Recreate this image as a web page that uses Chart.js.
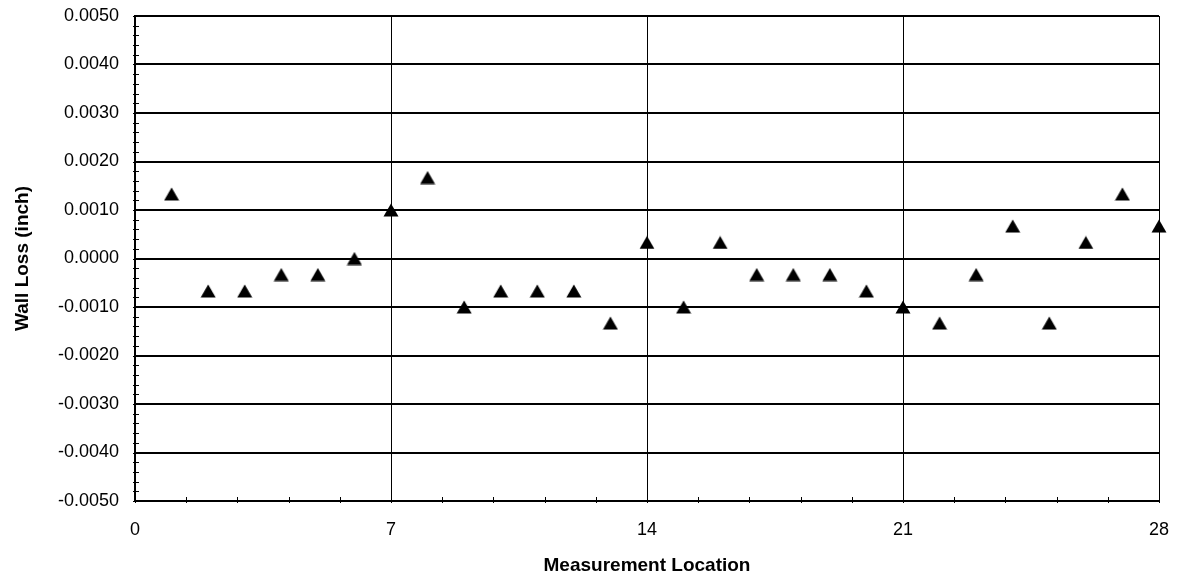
<!DOCTYPE html>
<html>
<head>
<meta charset="utf-8">
<script src="https://cdn.jsdelivr.net/npm/chart.js@4.4.1/dist/chart.umd.min.js"></script>
<style>
  html, body { margin: 0; padding: 0; background: #fff; }
  #wrap { width: 1177px; height: 577px; }
</style>
</head>
<body>
<div id="wrap"><canvas id="c" width="1177" height="577"></canvas></div>
<script>
const locations = [1,2,3,4,5,6,7,8,9,10,11,12,13,14,15,16,17,18,19,20,21,22,23,24,25,26,27,28];
const wallLoss = [0.00133,-0.00067,-0.00067,-0.00033,-0.00033,0.0000,0.0010,0.00167,-0.0010,-0.00067,-0.00067,-0.00067,-0.00133,0.00033,-0.0010,0.00033,-0.00033,-0.00033,-0.00033,-0.00067,-0.0010,-0.00133,-0.00033,0.00067,-0.00133,0.00033,0.00133,0.00067];
const xTitle = 'Measurement Location';
const yTitle = 'Wall Loss (inch)';
const xMinorStep = 1.4;
const yMinorStep = 0.0002;

const points = locations.map((x, i) => ({x: x, y: wallLoss[i]}));
const FONT = "'Liberation Sans', Arial, sans-serif";

// Triangle marker image, centred on its bounding box
const tri = document.createElement('canvas');
tri.width = 16; tri.height = 14;
(function () {
  const g = tri.getContext('2d');
  g.fillStyle = '#000';
  g.beginPath();
  g.moveTo(8, 0.5); g.lineTo(15.5, 13.5); g.lineTo(0.5, 13.5);
  g.closePath(); g.fill();
})();

const minorTicks = {
  id: 'minorTicks',
  afterDraw(chart) {
    const ctx = chart.ctx, xs = chart.scales.x, ys = chart.scales.y;
    ctx.save();
    ctx.strokeStyle = '#000';
    ctx.lineWidth = 1;
    ctx.beginPath();
    for (let v = ys.min; v <= ys.max + 1e-9; v += yMinorStep) {
      const py = Math.round(ys.getPixelForValue(v)) + 0.5;
      ctx.moveTo(xs.left - 2, py); ctx.lineTo(xs.left + 4, py);
    }
    for (let v = xs.min; v <= xs.max + 1e-9; v += xMinorStep) {
      const px = Math.round(xs.getPixelForValue(v)) + 0.5;
      ctx.moveTo(px, ys.bottom + 2); ctx.lineTo(px, ys.bottom - 4);
    }
    ctx.stroke();
    ctx.restore();
  }
};

new Chart(document.getElementById('c'), {
  type: 'scatter',
  data: {
    datasets: [{
      data: points,
      pointStyle: tri,
      pointRadius: 9,
      pointHoverRadius: 9,
      backgroundColor: '#000',
      borderColor: '#000',
      borderWidth: 0,
      clip: false
    }]
  },
  options: {
    responsive: false,
    animation: false,
    events: [],
    layout: { padding: { top: 16, right: 18, left: 0, bottom: 0 } },
    plugins: { legend: { display: false }, tooltip: { enabled: false } },
    scales: {
      x: {
        type: 'linear',
        min: 0, max: 28,
        afterFit: s => { s.height = 76; s.paddingLeft = 0; s.paddingRight = 0; },
        ticks: { stepSize: 7, color: '#000', padding: 18, font: { family: FONT, size: 18 }, maxRotation: 0 },
        grid: { color: '#000', lineWidth: 1, drawTicks: false },
        border: { color: '#000', width: 2 },
        title: { display: true, text: xTitle, color: '#000', font: { family: FONT, size: 19, weight: 'bold' }, padding: { top: 0, bottom: 0 } }
      },
      y: {
        min: -0.005, max: 0.005,
        afterFit: s => { s.width = 135; s.paddingTop = 0; s.paddingBottom = 0; },
        ticks: { stepSize: 0.001, color: '#000', padding: 16, font: { family: FONT, size: 18 },
                 callback: v => (Math.abs(v) < 1e-9 ? 0 : v).toFixed(4) },
        grid: { color: '#000', lineWidth: 2, drawTicks: false },
        border: { color: '#000', width: 2 },
        title: { display: true, text: yTitle, color: '#000', font: { family: FONT, size: 19, weight: 'bold' }, padding: { top: 11, bottom: 0 } }
      }
    }
  },
  plugins: [minorTicks]
});
</script>
</body>
</html>
